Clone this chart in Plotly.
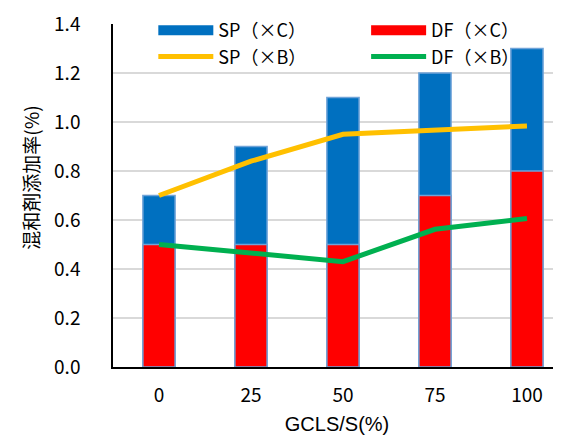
import plotly.graph_objects as go

categories = ["0", "25", "50", "75", "100"]
sp_c = [0.7, 0.9, 1.1, 1.2, 1.3]
df_c = [0.5, 0.5, 0.5, 0.7, 0.8]
sp_b = [0.70, 0.84, 0.95, 0.966, 0.984]
df_b = [0.50, 0.465, 0.43, 0.562, 0.606]
y_ticks = [0.0, 0.2, 0.4, 0.6, 0.8, 1.0, 1.2, 1.4]

BLUE = "#0070C0"
RED = "#FF0000"
EDGE = "#6FA3D8"
YELLOW = "#FFC000"
GREEN = "#00B050"
JP = "Noto Sans CJK JP"

fig = go.Figure()
fig.add_trace(go.Bar(x=categories, y=sp_c, width=0.35, marker=dict(color=BLUE, line=dict(color=EDGE, width=1.5)),
                     name="SP（×C）", showlegend=False))
fig.add_trace(go.Bar(x=categories, y=df_c, width=0.35, marker=dict(color=RED, line=dict(color=EDGE, width=1.5)),
                     name="DF（×C）", showlegend=False))
fig.add_trace(go.Scatter(x=categories, y=sp_b, mode="lines", line=dict(color=YELLOW, width=5),
                         name="SP（×B）", showlegend=False))
fig.add_trace(go.Scatter(x=categories, y=df_b, mode="lines", line=dict(color=GREEN, width=5),
                         name="DF（×B）", showlegend=False))

# legend entries
fig.add_trace(go.Scatter(x=[None], y=[None], mode="lines", line=dict(color=BLUE, width=12),
                         name="SP（×C）", legend="legend"))
fig.add_trace(go.Scatter(x=[None], y=[None], mode="lines", line=dict(color=YELLOW, width=5),
                         name="SP（×B）", legend="legend"))
fig.add_trace(go.Scatter(x=[None], y=[None], mode="lines", line=dict(color=RED, width=12),
                         name="DF（×C）", legend="legend2"))
fig.add_trace(go.Scatter(x=[None], y=[None], mode="lines", line=dict(color=GREEN, width=5),
                         name="DF（×B）", legend="legend2"))

leg_common = dict(bgcolor="rgba(0,0,0,0)", font=dict(family=JP, size=18, color="#000"),
                  tracegroupgap=0, yanchor="top", xanchor="left", itemwidth=55)

fig.update_layout(
    width=553, height=429,
    margin=dict(l=105, r=0, t=16, b=70, autoexpand=False),
    plot_bgcolor="white", paper_bgcolor="white",
    barmode="overlay",
    legend=dict(x=0.09, y=1.035, **leg_common),
    legend2=dict(x=0.565, y=1.035, **leg_common),
    xaxis=dict(type="category", range=[-0.5, 4.37], showgrid=False, showline=True, linecolor="black",
               linewidth=1.5, ticks="", tickfont=dict(family=JP, size=19, color="#000"),
               ticklabelstandoff=10, automargin=False,
               title=dict(text="GCLS/S(%)", font=dict(family="Liberation Sans", size=20, color="#000"), standoff=11)),
    yaxis=dict(range=[0, 1.4], tickvals=y_ticks, tickformat=".1f", showgrid=True, gridcolor="#D9D9D9",
               gridwidth=1.5, showline=True, linecolor="black", linewidth=1.5, zeroline=False,
               tickfont=dict(family=JP, size=19, color="#000"), ticklabelstandoff=27, automargin=False),
    annotations=[dict(text="混和剤添加率(%)", textangle=-90, xref="paper", yref="paper",
                      x=-0.186, y=0.551, xanchor="center", yanchor="middle", showarrow=False,
                      font=dict(family=JP, size=19, color="#000"))],
)

fig.write_html("out.html")
